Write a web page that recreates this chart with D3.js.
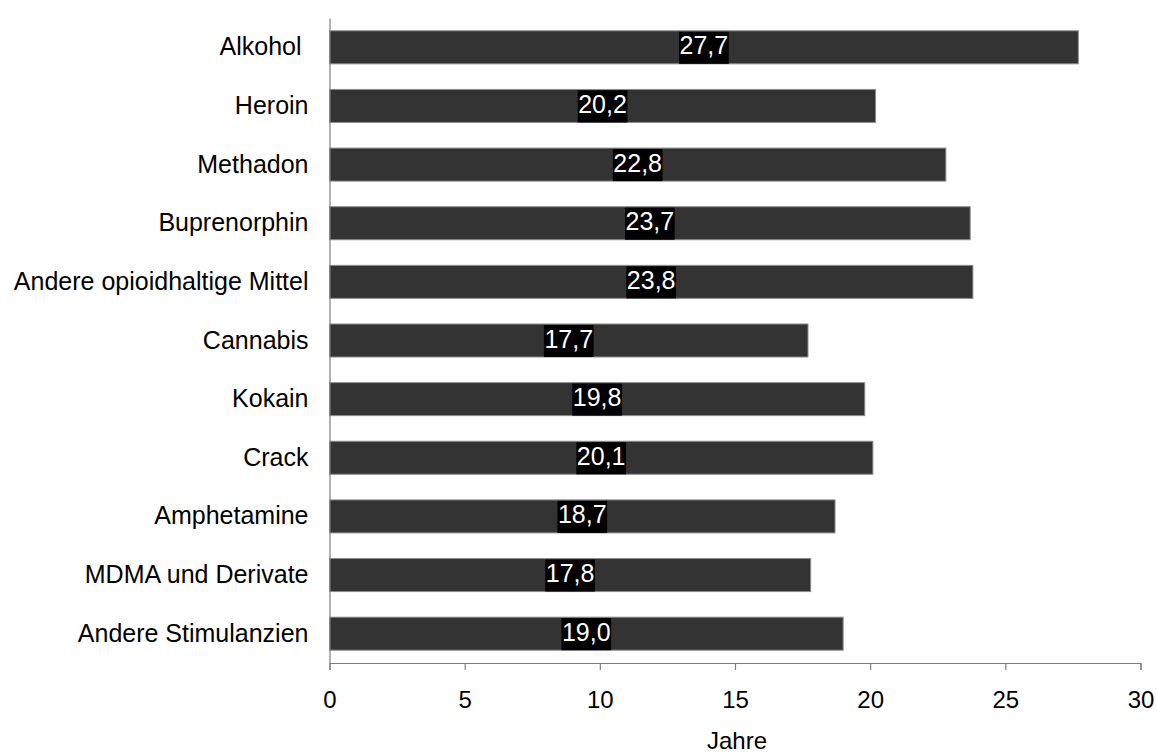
<!DOCTYPE html>
<html>
<head>
<meta charset="utf-8">
<script src="https://cdn.jsdelivr.net/npm/d3@7"></script>
<style>
  html, body { margin: 0; padding: 0; background: #fff; }
  svg { display: block; font-family: "Liberation Sans", Arial, sans-serif; }
</style>
</head>
<body>
<svg id="chart" width="1157" height="753"></svg>
<script>
const categories = ["Alkohol ", "Heroin", "Methadon", "Buprenorphin", "Andere opioidhaltige Mittel",
  "Cannabis", "Kokain", "Crack", "Amphetamine", "MDMA und Derivate", "Andere Stimulanzien"];
const values = [27.7, 20.2, 22.8, 23.7, 23.8, 17.7, 19.8, 20.1, 18.7, 17.8, 19.0];
const labels = ["27,7", "20,2", "22,8", "23,7", "23,8", "17,7", "19,8", "20,1", "18,7", "17,8", "19,0"];
const xTicks = [0, 5, 10, 15, 20, 25, 30];
const xTitle = "Jahre";

(function () {
const svg = d3.select("#chart");
const pLeft = 329.5, pRight = 1140.5, pTop = 18, pBottom = 663;

const x = d3.scaleLinear().domain([0, 30]).range([pLeft, pRight]);
const y = d3.scaleBand().domain(categories).range([pTop, pBottom]).paddingInner(0.437).paddingOuter(0.2185);

// bars
svg.append("g").selectAll("rect").data(categories).join("rect")
  .attr("x", x(0))
  .attr("y", d => y(d))
  .attr("width", (d, i) => x(values[i]) - x(0))
  .attr("height", y.bandwidth())
  .attr("fill", "#333333")
  .attr("stroke", "#8c8c8c")
  .attr("stroke-width", 1);

// x axis
const xAxis = d3.axisBottom(x).tickValues(xTicks).tickSize(7).tickPadding(21).tickFormat(d3.format("d"));
const gx = svg.append("g").attr("transform", `translate(0,${pBottom})`).call(xAxis);
gx.select(".domain").attr("stroke", "#808080").attr("stroke-width", 1.2);
gx.selectAll(".tick line").attr("stroke", "#808080").attr("stroke-width", 1.2);
gx.selectAll(".tick text").attr("font-size", 24).attr("fill", "#000")
  .attr("font-family", "'Liberation Sans', Arial, sans-serif");

// y axis line (no ticks)
const yAxis = d3.axisLeft(y).tickSize(0).tickPadding(21);
const gy = svg.append("g").attr("transform", `translate(${pLeft},0)`).call(yAxis);
gy.select(".domain").attr("stroke", "#808080").attr("stroke-width", 1.2);
gy.selectAll(".tick text").attr("font-size", 25).attr("fill", "#000")
  .attr("font-family", "'Liberation Sans', Arial, sans-serif")
  .style("white-space", "pre");

// data labels
const lg = svg.append("g");
categories.forEach((c, i) => {
  const cx = x(values[i] / 2);
  const cy = y(c) + y.bandwidth() / 2;
  const g = lg.append("g");
  const r = g.append("rect").attr("fill", "#000");
  const t = g.append("text")
    .attr("x", cx).attr("y", cy + 7)
    .attr("text-anchor", "middle")
    .attr("font-size", 25)
    .attr("fill", "#fff")
    .text(labels[i]);
  const w = t.node().getComputedTextLength();
  r.attr("x", cx - w / 2 - 0.5).attr("y", y(c) + 1).attr("width", w + 1).attr("height", y.bandwidth() - 1);
});

// axis title
svg.append("text")
  .attr("x", (pLeft + pRight) / 2 + 2)
  .attr("y", 749)
  .attr("text-anchor", "middle")
  .attr("font-size", 24)
  .attr("fill", "#000")
  .text(xTitle);
})();
</script>
</body>
</html>
